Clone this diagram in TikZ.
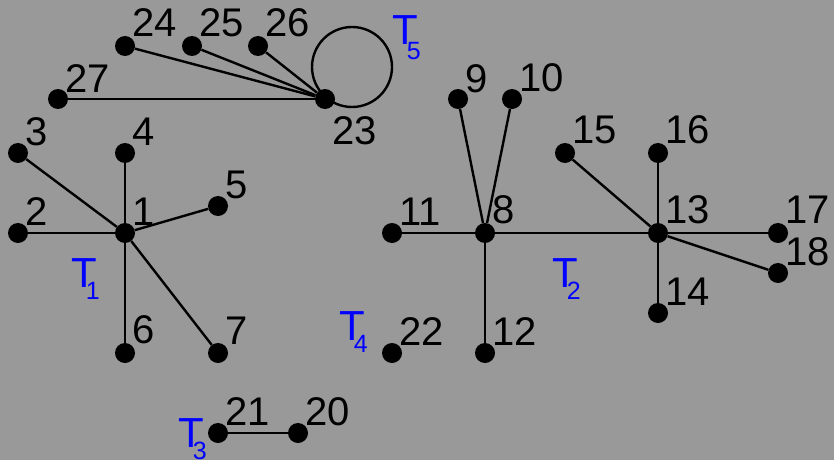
\documentclass[tikz,border=0pt]{standalone}
\usepackage{fontspec}
\setmainfont{Liberation Sans}
\definecolor{bg}{RGB}{153,153,153}
\tikzset{
  dot/.style={circle,fill=black,inner sep=0pt,minimum size=20pt},
  lbl/.style={inner sep=0pt,anchor=base west,font=\fontsize{40}{40}\selectfont},
  edge/.style={line width=2.4pt},
  tname/.style={inner sep=0pt,anchor=base west,text=blue,font=\fontsize{42}{42}\selectfont},
}
\newcommand\tlab[2]{T\kern-11pt\raisebox{#2}{\fontsize{25}{25}\selectfont #1}}
\newcommand\vtx[5]{%
  \node[dot] (v#1) at (#2,#3) {};
  \node[lbl] (l#1) at ([shift={(7.5,#4)}]v#1.center) {#5};}
\begin{document}
\begin{tikzpicture}[x=1pt,y=-1pt]
\fill[bg] (0,0) rectangle (834,460);
\useasboundingbox (0,0) rectangle (834,460);
% T1
\vtx{1}{125}{233}{-8}{1}
\vtx{2}{18}{233}{-8}{2}
\vtx{3}{18}{153}{-8}{3}
\vtx{4}{125}{153}{-8}{4}
\vtx{5}{218}{206}{-8}{5}
\vtx{6}{125}{353}{-10}{6}
\vtx{7}{218}{353}{-9}{7}
% T2
\vtx{8}{485}{233}{-10}{8}
\vtx{9}{458}{99}{-7}{9}
\vtx{10}{512}{99}{-8}{10}
\vtx{11}{392}{233}{-8}{11}
\vtx{12}{485}{353}{-8}{12}
\vtx{13}{658}{233}{-10}{13}
\vtx{14}{658}{313}{-8}{14}
\vtx{15}{565}{153}{-10}{15}
\vtx{16}{658}{153}{-10}{16}
\vtx{17}{778}{233}{-10}{17}
\vtx{18}{778}{273}{-8}{18}
% T3
\vtx{20}{298}{433}{-8}{20}
\vtx{21}{218}{433}{-8}{21}
% T4
\vtx{22}{392}{353}{-8}{22}
% T5
\vtx{23}{325}{99}{45}{23}
\vtx{24}{125}{46}{-9}{24}
\vtx{25}{192}{46}{-9}{25}
\vtx{26}{258}{46}{-9}{26}
\vtx{27}{58}{99}{-7}{27}
% edges
\foreach \b in {2,3,4,5,6,7} \draw[edge] (v1) -- (v\b);
\foreach \b in {9,10,11,12,13} \draw[edge] (v8) -- (v\b);
\foreach \b in {14,15,16,17,18} \draw[edge] (v13) -- (v\b);
\draw[edge] (v21) -- (v20);
\foreach \b in {24,25,26,27} \draw[edge] (v23) -- (v\b);
\draw[edge] (v23.center) ++(27,-32) circle[radius=40pt];
% tree names
\node[tname] (t1) at (71,287) {\tlab{1}{-12.5pt}};
\node[tname] (t2) at (552,287) {\tlab{2}{-12pt}};
\node[tname] (t3) at (178,447) {\tlab{3}{-12.5pt}};
\node[tname] (t4) at (339,340) {\tlab{4}{-12pt}};
\node[tname] (t5) at (392,45) {\tlab{5}{-15pt}};
\end{tikzpicture}
\end{document}
